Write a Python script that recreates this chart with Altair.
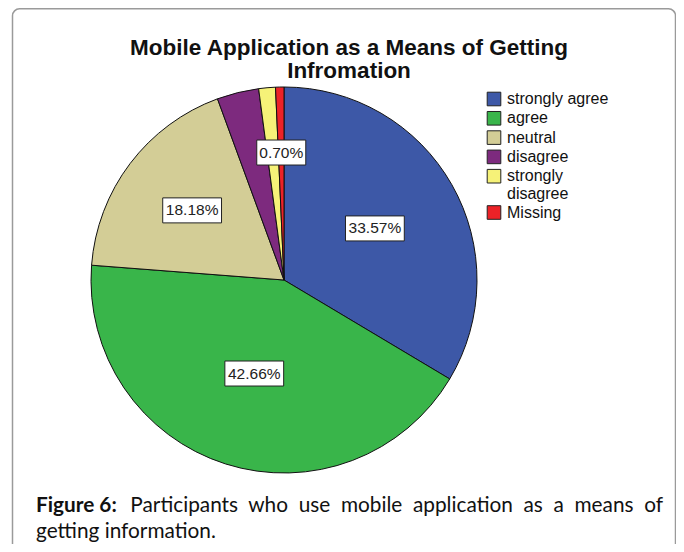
import altair as alt
import pandas as pd

# ---- data ----
categories = ["strongly agree", "agree", "neutral", "disagree", "strongly disagree", "Missing"]
percents = [33.57, 42.66, 18.18, 3.50, 1.40, 0.70]
colors = ["#3d58a7", "#39b54a", "#d3cd96", "#7d2a7e", "#f6f278", "#ec2227"]
labeled = ["strongly agree", "agree", "neutral", "Missing"]

title_lines = ["Mobile Application as a Means of Getting", "Infromation"]
caption_bold = "Figure 6:"
caption_words = ["Participants", "who", "use", "mobile", "application", "as", "a", "means", "of"]
caption_line2 = "getting information."

GAP = " \u00a0"
caption_line1 = GAP.join(caption_words)

df = pd.DataFrame({"cat": categories, "pct": percents, "order": list(range(len(categories)))})
one = pd.DataFrame({"k": [0]})

# ---- layout ----
W, H = 668, 536
CX, CY, R = 276, 272, 193
CAP_FS = 20.8

xs = alt.Scale(domain=[0, W], nice=False, zero=False)
ys = alt.Scale(domain=[0, H], nice=False, zero=False, reverse=True)

frame = alt.Chart(one).mark_rect(
    fill="white", fillOpacity=0, stroke="#9a9a9a", strokeWidth=1.5, cornerRadius=7
).encode(x=alt.value(4.5), x2=alt.value(667.5), y=alt.value(0.8), y2=alt.value(580))

pie = alt.Chart(df).mark_arc(outerRadius=R, stroke="#111", strokeWidth=1).encode(
    theta=alt.Theta("pct:Q", stack=True),
    color=alt.Color(
        "cat:N",
        sort=categories,
        scale=alt.Scale(domain=categories, range=colors),
        legend=alt.Legend(
            title=None,
            orient="none",
            legendX=478,
            legendY=83,
            padding=0,
            symbolType="square",
            symbolSize=185,
            symbolStrokeColor="#222",
            symbolStrokeWidth=1,
            symbolOpacity=1,
            labelFont="Liberation Sans",
            labelFontSize=16,
            labelColor="#111",
            labelOffset=5,
            labelLimit=300,
            rowPadding=1.3,
            labelExpr="datum.label == 'strongly disagree' ? ['strongly', 'disagree'] : datum.label",
        ),
    ),
    order=alt.Order("order:Q"),
    x=alt.value(CX),
    y=alt.value(CY),
)

lab_base = (
    alt.Chart(df)
    .transform_window(cum="sum(pct)", sort=[alt.SortField("order")], frame=[None, 0])
    .transform_calculate(
        mid="(datum.cum - datum.pct / 2) / 100 * 2 * PI",
        r="128 - 0.7 * datum.pct",
        lx=f"{CX} + datum.r * sin(datum.mid)",
        ly=f"{CY} - datum.r * cos(datum.mid)",
        txt="format(datum.pct, '.2f') + '%'",
        bw="length(datum.txt) * 9.8",
        x1="datum.lx - datum.bw / 2",
        x2="datum.lx + datum.bw / 2",
        y1="datum.ly - 12.5",
        y2="datum.ly + 12.5",
    )
    .transform_filter(alt.FieldOneOfPredicate(field="cat", oneOf=labeled))
)

boxes = lab_base.mark_rect(fill="white", stroke="#222", strokeWidth=1).encode(
    x=alt.X("x1:Q", scale=xs, axis=None),
    x2="x2:Q",
    y=alt.Y("y1:Q", scale=ys, axis=None),
    y2="y2:Q",
)

texts = lab_base.mark_text(
    font="Liberation Sans", fontSize=15.5, color="#222", align="center", baseline="middle"
).encode(
    x=alt.X("lx:Q", scale=xs, axis=None),
    y=alt.Y("ly:Q", scale=ys, axis=None),
    text="txt:N",
)

title = alt.Chart(one).mark_text(
    text=title_lines, font="Liberation Sans", fontSize=22.5, fontWeight="bold",
    color="#111", align="center", baseline="alphabetic", lineHeight=23,
).encode(x=alt.value(341), y=alt.value(47))

cap_b = alt.Chart(one).mark_text(
    text=caption_bold, font="Lato", fontSize=CAP_FS, fontWeight="bold",
    color="#111", align="left", baseline="alphabetic",
).encode(x=alt.value(28), y=alt.value(504))

cap_1 = alt.Chart(one).mark_text(
    text=caption_line1, font="Lato", fontSize=CAP_FS,
    color="#111", align="right", baseline="alphabetic",
).encode(x=alt.value(655), y=alt.value(504))

cap_2 = alt.Chart(one).mark_text(
    text=caption_line2, font="Lato", fontSize=CAP_FS,
    color="#111", align="left", baseline="alphabetic",
).encode(x=alt.value(28), y=alt.value(530))

chart = (
    alt.layer(frame, pie, boxes, texts, title, cap_b, cap_1, cap_2)
    .properties(width=W, height=H, autosize=alt.AutoSizeParams(type="none"), padding=0, background="white")
    .configure_view(stroke=None)
)

chart.save("out.html", embed_options={"renderer": "svg", "actions": False})
